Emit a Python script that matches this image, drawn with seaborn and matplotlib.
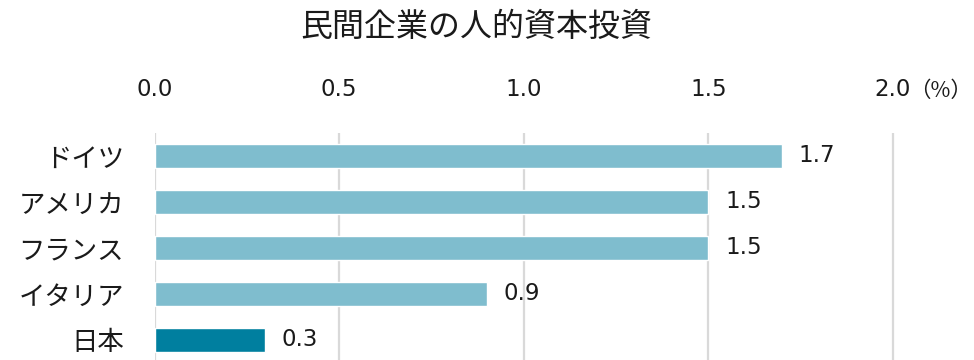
import matplotlib
matplotlib.use("Agg")
import matplotlib.pyplot as plt
import seaborn as sns
import pandas as pd

countries = ["ドイツ", "アメリカ", "フランス", "イタリア", "日本"]
values = [1.7, 1.5, 1.5, 0.9, 0.3]
bar_colors = ["#7fbdce", "#7fbdce", "#7fbdce", "#7fbdce", "#007f9f"]
x_ticks = [0.0, 0.5, 1.0, 1.5, 2.0]
x_tick_labels = ["0.0", "0.5", "1.0", "1.5", "2.0"]
title = "民間企業の人的資本投資"
unit = "（%）"

sns.set_theme(style="white")
plt.rcParams["font.family"] = ["Noto Sans CJK JP", "DejaVu Sans"]

df = pd.DataFrame({"country": countries, "value": values})

fig = plt.figure(figsize=(9.74, 3.6), dpi=100)
px_per_unit = 369.25
ax = fig.add_axes([154.5 / 974, -3 / 360, 2.2 * px_per_unit / 974, 230 / 360])

sns.barplot(data=df, x="value", y="country", hue="country",
            palette=bar_colors, width=0.52, orient="h", legend=False,
            saturation=1, ax=ax)

ax.set_xlim(0, 2.2)
ax.set_ylim(4.5, -0.5)
ax.set_xticks(x_ticks)
ax.set_xticklabels(x_tick_labels, family=["DejaVu Sans"])
ax.xaxis.tick_top()
ax.tick_params(axis="x", length=0, pad=23, labelsize=16.5, colors="#1a1a1a")
ax.tick_params(axis="y", length=0, pad=22, labelsize=19, colors="#1a1a1a")
ax.set_xlabel("")
ax.set_ylabel("")
for s in ax.spines.values():
    s.set_visible(False)
ax.grid(axis="x", color="#d9d9d9", linewidth=1.6)
ax.set_axisbelow(True)

for i, v in enumerate(values):
    ax.annotate(f"{v:.1f}", xy=(v, i), xytext=(12, 0), textcoords="offset points",
                ha="left", va="center", fontsize=16.5, family=["DejaVu Sans"],
                color="#1a1a1a")

# unit marker at the right end of the tick row
fig.text(972 / 974, 1 - 91 / 360, unit, ha="right", va="center",
         fontsize=15.5, color="#1a1a1a")

fig.text(476 / 974, 1 - 27 / 360, title, ha="center", va="center",
         fontsize=23, color="#1a1a1a")

fig.savefig("out.png", dpi=100)
